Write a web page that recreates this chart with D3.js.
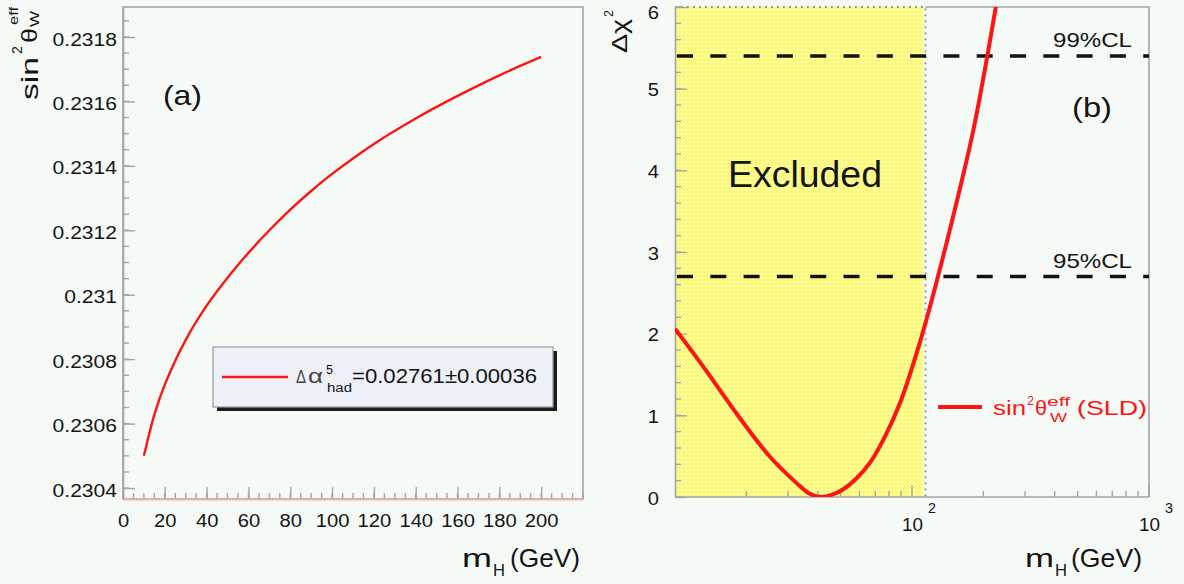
<!DOCTYPE html>
<html><head><meta charset="utf-8">
<script src="https://cdn.jsdelivr.net/npm/d3@7"></script>
<style>
html,body{margin:0;padding:0;background:#f6faf6;}
svg{display:block;font-family:"Liberation Sans",Arial,Helvetica,sans-serif;}
</style></head><body>
<svg id="c" width="1184" height="584"></svg>
<script>
// ---------- Panel (a) data ----------
const massA = [10,15,20,30,40,50,60,70,80,90,100,120,140,160,180,200];
const sin2A = [0.230500,0.230628,0.230721,0.230860,0.230966,0.231053,0.231130,0.231200,0.231264,0.231322,0.231375,0.231468,0.231547,0.231617,0.231681,0.231738];
const yTicksA = [0.2304,0.2306,0.2308,0.2310,0.2312,0.2314,0.2316,0.2318];
const yLabelsA = ["0.2304","0.2306","0.2308","0.231","0.2312","0.2314","0.2316","0.2318"];
const xTicksA = [0,20,40,60,80,100,120,140,160,180,200];
const legendValueA = "=0.02761\u00B10.00036";
// ---------- Panel (b) data ----------
const massB = [10,13.2,18.2,25.2,32.6,36.55,40.9,45.8,51.3,58.4,66.5,76.9,89.0,108.1,127.1,159.4,181.4,203.2,223.9,235.1];
const chi2B = [2.06,1.59,1.02,0.49,0.17,0.05,0.0,0.025,0.095,0.23,0.42,0.74,1.15,1.90,2.64,3.78,4.49,5.24,5.94,6.3];
const yTicksB = [0,1,2,3,4,5,6];
const clLevels = [2.7, 5.4];
const clLabels = ["95%CL","99%CL"];
const excludedMax = 114;
const xDecadesB = [100, 1000];
const xDecadeExp = ["2","3"];

const RED = "#ff1414", GRAY = "#a4a4a4", INK = "#141414";
const svg = d3.select("#c");

function stretch(sel, f){
  sel.each(function(){
    const w = this.getComputedTextLength();
    d3.select(this).attr("textLength", w*f).attr("lengthAdjust","spacingAndGlyphs");
  });
}
function txt(g, x, y, s, size, len, color){
  const t = g.append("text").attr("x",x).attr("y",y).attr("font-size",size)
    .attr("fill", color||INK).text(s);
  if(len) t.attr("textLength",len).attr("lengthAdjust","spacingAndGlyphs");
  return t;
}

// defs
const defs = svg.append("defs");
const pat = defs.append("pattern").attr("id","dots").attr("patternUnits","userSpaceOnUse")
  .attr("width",4).attr("height",4);
pat.append("rect").attr("width",4).attr("height",4).attr("fill","#fbfb6c");
pat.append("circle").attr("cx",2).attr("cy",2).attr("r",1.0).attr("fill","#ffffff");

// =============== Panel (a) ===============
const FA = {l:123, r:583, t:7, b:499};
const xA = d3.scaleLinear().domain([0,220]).range([FA.l, FA.r]);
const yA = d3.scaleLinear().domain([0.230366,0.231893]).range([FA.b, FA.t]);
const gA = svg.append("g");

gA.append("rect").attr("x",FA.l).attr("y",FA.t).attr("width",FA.r-FA.l).attr("height",FA.b-FA.t)
  .attr("fill","#f6faf6").attr("stroke",GRAY).attr("stroke-width",1.6);

// minor ticks y
const minorYA = d3.range(0,40).map(i=>+(0.2304+i*0.00005).toFixed(6)).filter(v=>v<=yA.domain()[1]);
gA.append("g").selectAll("line").data(minorYA).join("line")
  .attr("x1",FA.l).attr("x2",FA.l+6).attr("y1",d=>yA(d)).attr("y2",d=>yA(d))
  .attr("stroke",GRAY).attr("stroke-width",1.4);
const axYA = gA.append("g").attr("transform",`translate(${FA.l},0)`)
  .call(d3.axisLeft(yA).tickValues(yTicksA).tickFormat((d,i)=>yLabelsA[i]).tickSize(-12).tickSizeOuter(0).tickPadding(6));
axYA.attr("font-family",null).attr("font-size",18);
axYA.select(".domain").attr("stroke",GRAY).attr("stroke-width",1.6);
axYA.selectAll(".tick line").attr("stroke",GRAY).attr("stroke-width",1.4);
axYA.selectAll(".tick text").attr("fill",INK).attr("dy","0.45em").call(stretch,1.17);

// x axis
const minorXA = d3.range(0,221,5);
gA.append("g").selectAll("line").data(minorXA).join("line")
  .attr("x1",d=>xA(d)).attr("x2",d=>xA(d)).attr("y1",FA.b).attr("y2",FA.b-6)
  .attr("stroke",GRAY).attr("stroke-width",1.4);
const axXA = gA.append("g").attr("transform",`translate(0,${FA.b})`)
  .call(d3.axisBottom(xA).tickValues(xTicksA).tickSize(-12).tickSizeOuter(0).tickPadding(15));
axXA.attr("font-family",null).attr("font-size",18);
axXA.select(".domain").attr("stroke","#f2b0b0").attr("stroke-width",2);
axXA.selectAll(".tick line").attr("stroke",GRAY).attr("stroke-width",1.4);
axXA.selectAll(".tick text").attr("fill",INK).call(stretch,1.12);

// curve
gA.append("path").datum(massA.map((m,i)=>[m,sin2A[i]]))
  .attr("fill","none").attr("stroke",RED).attr("stroke-width",2.4)
  .attr("d", d3.line().x(d=>xA(d[0])).y(d=>yA(d[1])).curve(d3.curveCatmullRom.alpha(0.5)));

// (a)
txt(gA,163,105,"(a)",28,39);

// legend
gA.append("rect").attr("x",217).attr("y",351).attr("width",340).attr("height",60).attr("fill","#1c1c1c");
gA.append("rect").attr("x",213).attr("y",347).attr("width",340).attr("height",60)
  .attr("fill","#eef0f7").attr("stroke","#9a9a9a").attr("stroke-width",1.2);
gA.append("line").attr("x1",222).attr("x2",288).attr("y1",377).attr("y2",377)
  .attr("stroke",RED).attr("stroke-width",2.6);
txt(gA,296,383,"\u0394",19,10,"#444");
txt(gA,308,383,"\u03B1",20,15,"#444");
txt(gA,326,374,"5",12,7);
txt(gA,327,392,"had",12,25);
txt(gA,352,383,legendValueA,21,185);

// y title (rotated)
const ytA = gA.append("g").attr("transform","translate(38,100) rotate(-90)");
txt(ytA,0,0,"sin",24,43);
txt(ytA,46,-16,"2",14,8);
txt(ytA,57,-1,"\u03B8",22,15);
txt(ytA,73,1,"W",12,16);
txt(ytA,75,-20,"eff",12,18);

// x title
txt(gA,462,567,"m",26,30);
txt(gA,493,576,"H",16,12);
txt(gA,510,567,"(GeV)",26,70);

// =============== Panel (b) ===============
const FB = {l:675, r:1149, t:7, b:497};
const xB = d3.scaleLog().domain([10,1000]).range([FB.l, FB.r]);
const yB = d3.scaleLinear().domain([0,6]).range([FB.b, FB.t]);
const gB = svg.append("g");
const clip = defs.append("clipPath").attr("id","clipB");
clip.append("rect").attr("x",FB.l).attr("y",FB.t).attr("width",FB.r-FB.l).attr("height",FB.b-FB.t);

gB.append("rect").attr("x",FB.l).attr("y",FB.t).attr("width",FB.r-FB.l).attr("height",FB.b-FB.t)
  .attr("fill","#f6faf6");
// excluded region
gB.append("rect").attr("x",xB(10)).attr("y",FB.t).attr("width",xB(excludedMax)-xB(10)-2).attr("height",FB.b-FB.t)
  .attr("fill","url(#dots)");
// frame: solid parts
gB.append("path").attr("fill","none").attr("stroke",GRAY).attr("stroke-width",1.6)
  .attr("d",`M${xB(excludedMax)},${FB.t}H${FB.r}V${FB.b}`);
// dotted outline of excluded box
gB.append("path").attr("fill","none").attr("stroke","#8c8c8c").attr("stroke-width",1.8)
  .attr("stroke-dasharray","1.8,4.2")
  .attr("d",`M${xB(10)},${FB.t}H${xB(excludedMax)}V${FB.b}`);

// y axis
const minorYB = d3.range(0,31).map(i=>i*0.2);
gB.append("g").selectAll("line").data(minorYB).join("line")
  .attr("x1",FB.l).attr("x2",FB.l+6).attr("y1",d=>yB(d)).attr("y2",d=>yB(d))
  .attr("stroke",GRAY).attr("stroke-width",1.4);
const axYB = gB.append("g").attr("transform",`translate(${FB.l},0)`)
  .call(d3.axisLeft(yB).tickValues(yTicksB).tickFormat(d3.format("d")).tickSize(-12).tickSizeOuter(0).tickPadding(16));
axYB.attr("font-family",null).attr("font-size",18);
axYB.select(".domain").attr("stroke",GRAY).attr("stroke-width",1.6);
axYB.selectAll(".tick line").attr("stroke",GRAY).attr("stroke-width",1.4);
axYB.selectAll(".tick text").attr("fill",INK).attr("dy",d=>d===6?"0.62em":"0.4em").call(stretch,1.12);

// x axis (log)
const minorXB = [];
[10,100].forEach(dec=>{ for(let k=2;k<=9;k++) minorXB.push(dec*k); });
gB.append("line").attr("x1",FB.l).attr("x2",FB.r).attr("y1",FB.b).attr("y2",FB.b)
  .attr("stroke",GRAY).attr("stroke-width",1.6);
gB.append("g").selectAll("line").data(minorXB).join("line")
  .attr("x1",d=>xB(d)).attr("x2",d=>xB(d)).attr("y1",FB.b).attr("y2",FB.b-6)
  .attr("stroke",GRAY).attr("stroke-width",1.4);
gB.append("g").selectAll("line").data(xDecadesB).join("line")
  .attr("x1",d=>xB(d)).attr("x2",d=>xB(d)).attr("y1",FB.b).attr("y2",FB.b-12)
  .attr("stroke",GRAY).attr("stroke-width",1.4);
xDecadesB.forEach((d,i)=>{
  txt(gB,xB(d)-10,531,"10",19,21);
  txt(gB,xB(d)+16,513,xDecadeExp[i],15,8);
});

// CL lines
clLevels.forEach((lv,i)=>{
  gB.append("line").attr("x1",FB.l+2).attr("x2",FB.r).attr("y1",yB(lv)).attr("y2",yB(lv))
    .attr("stroke","#111").attr("stroke-width",3.6).attr("stroke-dasharray","16,17.3");
  txt(gB,1053,yB(lv)-9,clLabels[i],21,79);
});

// curve
gB.append("path").datum(massB.map((m,i)=>[m,chi2B[i]]))
  .attr("clip-path","url(#clipB)")
  .attr("fill","none").attr("stroke",RED).attr("stroke-width",4)
  .attr("d", d3.line().x(d=>xB(d[0])).y(d=>yB(d[1])).curve(d3.curveCatmullRom.alpha(0.5)));

// texts
txt(gB,728,187,"Excluded",36,154);
txt(gB,1072,117,"(b)",28,40);

// legend
gB.append("line").attr("x1",938).attr("x2",982).attr("y1",407).attr("y2",407)
  .attr("stroke",RED).attr("stroke-width",4);
txt(gB,993,415,"sin",20,33,RED);
txt(gB,1027,405,"2",13,7,RED);
txt(gB,1035,415,"\u03B8",20,12,RED);
txt(gB,1047,406,"eff",12,23,RED);
txt(gB,1050,422,"W",12,17,RED);
txt(gB,1077,415,"(SLD)",20,70,RED);

// y title
const ytB = gB.append("g").attr("transform","translate(627,53) rotate(-90)");
txt(ytB,0,0,"\u0394\u03C7",22,34);
txt(ytB,36,-14,"2",13,7);

// x title
txt(gB,1025,567,"m",26,29);
txt(gB,1055,576,"H",16,12);
txt(gB,1071,567,"(GeV)",26,71);
</script>
</body></html>
